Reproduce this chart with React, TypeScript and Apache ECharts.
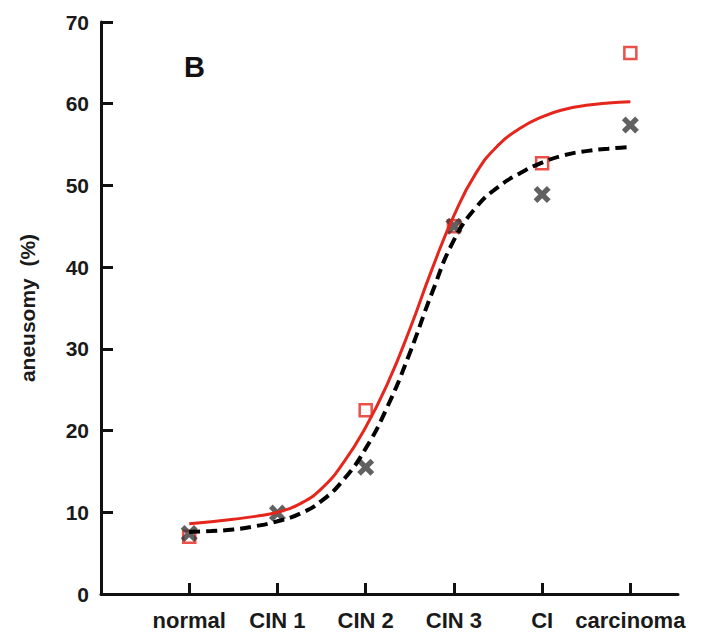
import React, { useEffect, useRef } from "react";
import * as echarts from "echarts";

const categories = ["normal", "CIN 1", "CIN 2", "CIN 3", "CI", "carcinoma"];
const categoryPositions = [1, 2, 3, 4, 5, 6];
const yTicks = [0, 10, 20, 30, 40, 50, 60, 70];

// Observed values
const redSquares = [7.0, null, 22.5, 45.0, 52.7, 66.2];
const blackCrosses = [7.4, 9.9, 15.5, 45.0, 48.9, 57.4];

// Fitted curves (x position, value)
const curveX = [1, 1.25, 1.5, 1.75, 2, 2.25, 2.5, 2.75, 3, 3.25, 3.5, 3.75, 4, 4.25, 4.5, 4.75, 5, 5.25, 5.5, 5.75, 6];
const redCurve = [8.6, 8.85, 9.15, 9.5, 10.0, 11.0, 12.9, 16.1, 20.4, 25.8, 32.4, 39.7, 46.3, 51.5, 54.9, 57.0, 58.4, 59.3, 59.8, 60.1, 60.25];
const blackCurve = [7.6, 7.7, 7.9, 8.3, 8.9, 9.8, 11.4, 14.0, 17.8, 23.0, 29.5, 36.8, 43.3, 47.3, 49.8, 51.5, 52.8, 53.7, 54.2, 54.5, 54.7];

const FONT = "'Liberation Sans', Arial, Helvetica, sans-serif";
const RED = "#e4261c";
const X_PATH =
  "path://M0,3.5 L3.5,0 L8,4.5 L12.5,0 L16,3.5 L11.5,8 L16,12.5 L12.5,16 L8,11.5 L3.5,16 L0,12.5 L4.5,8 Z";

export default function App() {
  const ref = useRef<HTMLDivElement>(null);
  useEffect(() => {
    if (!ref.current) return;
    const chart = echarts.init(ref.current, null, { renderer: "svg" });
    const sq = categoryPositions
      .map((x, i) => [x, redSquares[i]])
      .filter((d) => d[1] !== null);
    const cr = categoryPositions.map((x, i) => [x, blackCrosses[i]]);
    chart.setOption({
      animation: false,
      backgroundColor: "#ffffff",
      grid: { left: 101, right: 23, top: 22, bottom: 48, containLabel: false },
      xAxis: {
        type: "value",
        min: 0,
        max: 6.54,
        interval: 1,
        splitLine: { show: false },
        axisLine: { lineStyle: { color: "#111", width: 3 } },
        axisTick: {
          inside: true,
          length: 11,
          customValues: categoryPositions,
          lineStyle: { color: "#111", width: 3 },
        },
        axisLabel: {
          customValues: categoryPositions,
          formatter: (v: number) => categories[Math.round(v) - 1] ?? "",
          color: "#1a1a1a",
          fontFamily: FONT,
          fontWeight: "bold",
          fontSize: 22,
          margin: 15,
        },
      },
      yAxis: {
        type: "value",
        min: 0,
        max: 70,
        interval: 10,
        splitLine: { show: false },
        name: "aneusomy  (%)",
        nameLocation: "middle",
        nameGap: 63,
        nameTextStyle: { fontFamily: FONT, fontWeight: "bold", fontSize: 21, color: "#1a1a1a" },
        axisLine: { show: true, lineStyle: { color: "#111", width: 3 } },
        axisTick: { show: true, inside: true, length: 12, lineStyle: { color: "#111", width: 3 } },
        axisLabel: {
          color: "#1a1a1a",
          fontFamily: FONT,
          fontWeight: "bold",
          fontSize: 21,
          margin: 12,
          formatter: (v: number) => (yTicks.includes(v) ? String(v) : ""),
        },
      },
      graphic: [
        {
          type: "text",
          left: 184,
          top: 52,
          style: { text: "B", font: `bold 29px ${FONT}`, fill: "#111" },
        },
      ],
      series: [
        {
          type: "scatter",
          data: sq,
          symbol: "rect",
          symbolSize: 12,
          itemStyle: { color: "#ffffff", borderColor: RED, borderWidth: 2.5 },
          z: 2,
        },
        {
          type: "scatter",
          data: cr,
          symbol: X_PATH,
          symbolSize: 17,
          itemStyle: { color: "#3a3a3a" },
          z: 3,
        },
        {
          type: "line",
          data: curveX.map((x, i) => [x, blackCurve[i]]),
          smooth: 0.5,
          showSymbol: false,
          lineStyle: { color: "#000", width: 4, type: [11, 6] },
          z: 4,
        },
        {
          type: "line",
          data: curveX.map((x, i) => [x, redCurve[i]]),
          smooth: 0.5,
          showSymbol: false,
          lineStyle: { color: RED, width: 3 },
          z: 5,
        },
      ],
    });
    return () => chart.dispose();
  }, []);
  return <div ref={ref} style={{ width: 701, height: 642, margin: -8 }} />;
}
